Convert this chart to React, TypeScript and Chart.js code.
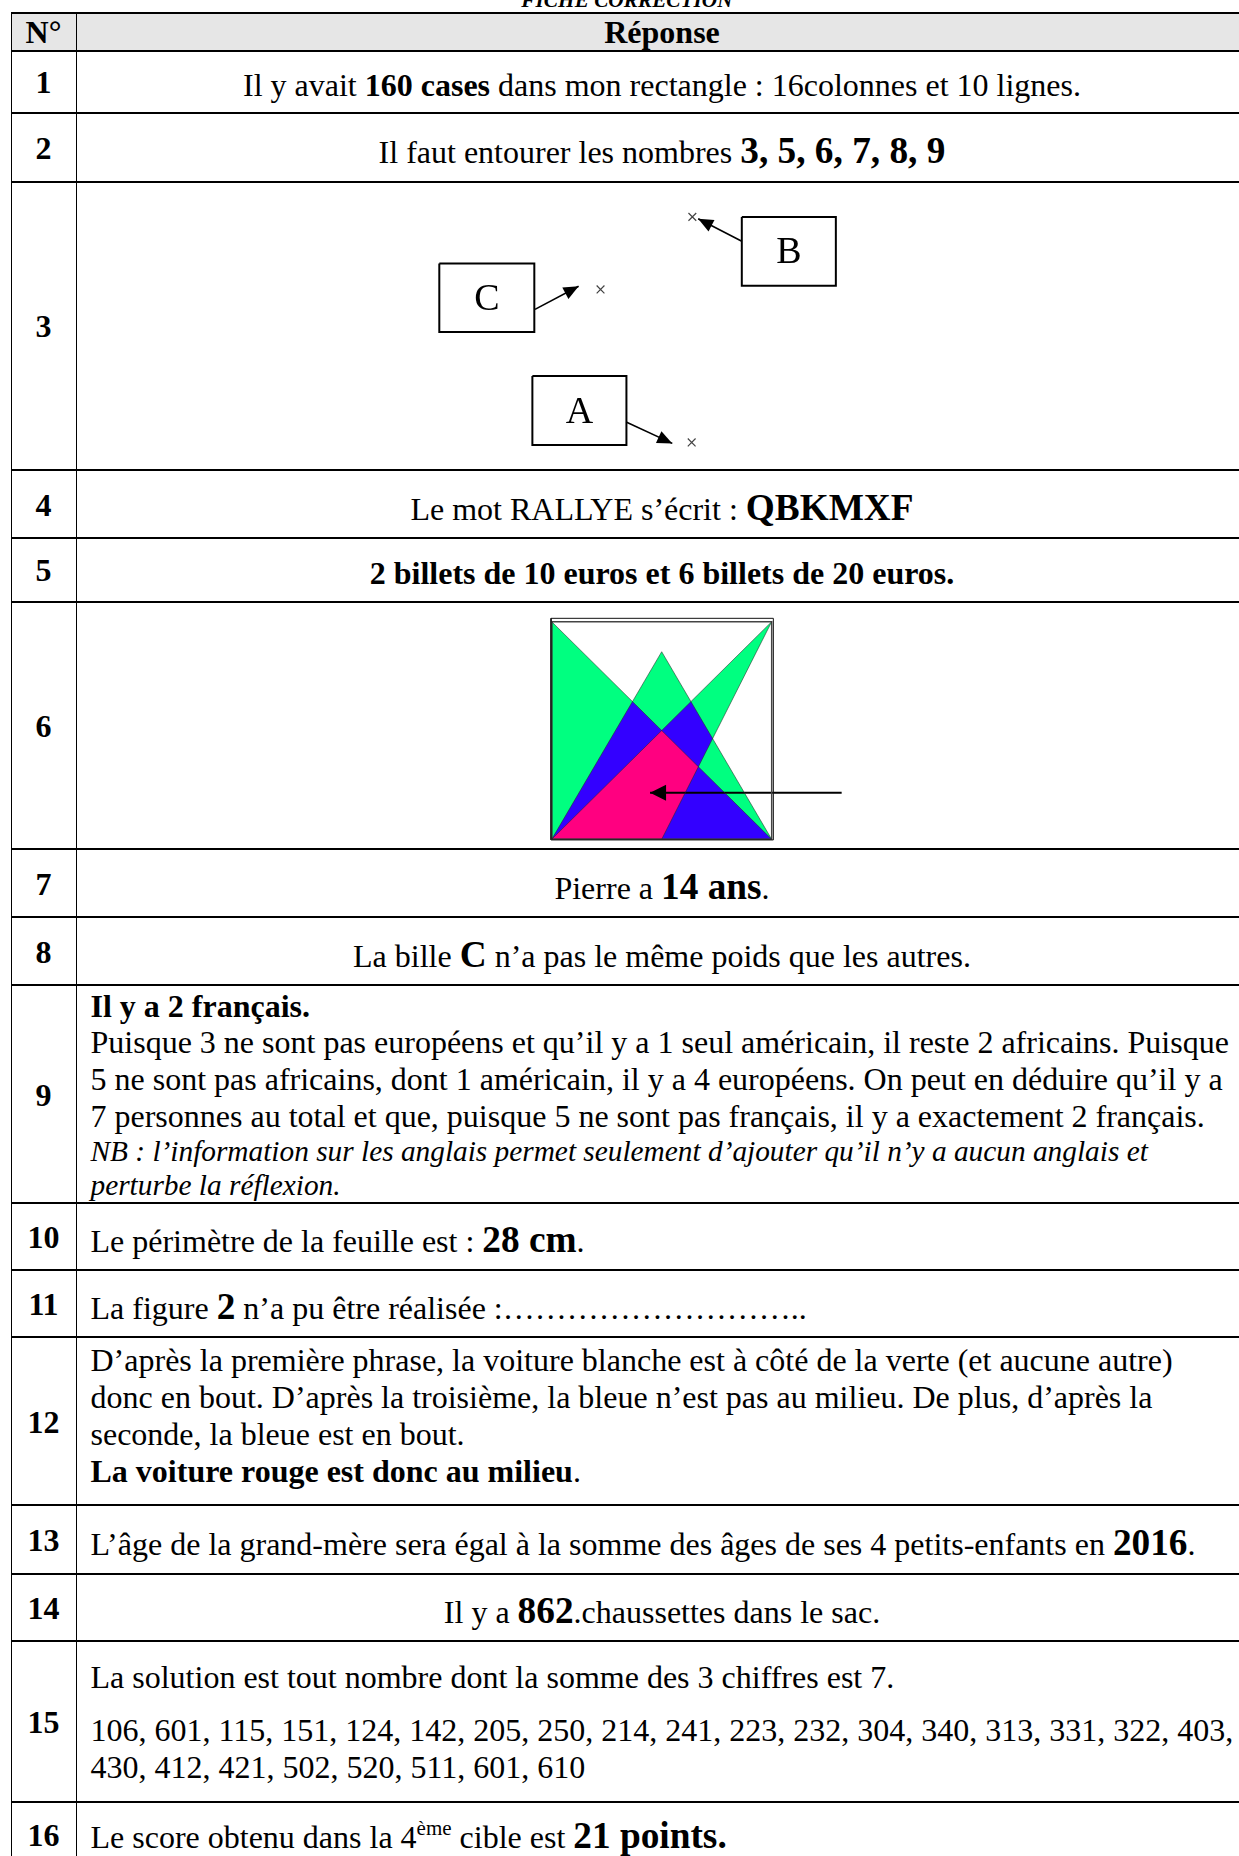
import React, { useEffect, useRef } from 'react';
import { Chart, registerables } from 'chart.js';

Chart.register(...registerables);

// ---------- Row 3 diagram data (diagram units) ----------
const boxLabels = ['C', 'B', 'A'];
const boxX0 = [1.3, 32.5, 10.9];
const boxX1 = [11.1, 42.2, 20.6];
const boxY0 = [6.5, 1.6, 18.35];
const boxY1 = [13.7, 8.85, 25.6];
const arrowFromX = [11.17, 32.5, 20.57];
const arrowFromY = [11.33, 4.17, 23.17];
const arrowToX = [15.67, 28.0, 25.33];
const arrowToY = [8.9, 1.8, 25.43];
const crossX = [17.93, 27.4, 27.33];
const crossY = [9.23, 1.6, 25.33];

// ---------- Row 6 figure data (unit square) ----------
const triangle1 = [
  { x: 0, y: 1 },
  { x: 0, y: 0 },
  { x: 1, y: 0 },
];
const triangle2 = [
  { x: 0, y: 0 },
  { x: 1, y: 0 },
  { x: 0.5, y: 0.862 },
];
const triangle3 = [
  { x: 1, y: 1 },
  { x: 0, y: 0 },
  { x: 0.5, y: 0 },
];
const innerFrame = [
  { x: 0, y: 0 },
  { x: 1, y: 0 },
  { x: 1, y: 1 },
  { x: 0, y: 1 },
];
const outerFrame = [
  { x: -0.003, y: -0.003 },
  { x: 1.0075, y: -0.003 },
  { x: 1.0075, y: 1.0156 },
  { x: -0.003, y: 1.0156 },
];
const pointerArrow = [
  { x: 1.318, y: 0.214 },
  { x: 0.447, y: 0.214 },
];

const regionColors = ['#00ff80', '#3300ff', '#ff0080'];

const FONT = '"Liberation Serif", "Times New Roman", serif';

const close = (pts: { x: number; y: number }[]) => [...pts, pts[0]];

const extrasPlugin = {
  id: 'extras',
  beforeDatasetsDraw(chart: any) {
    const ctx = chart.ctx;
    const polys: Path2D[] = [];
    chart.data.datasets.forEach((ds: any, i: number) => {
      if (!ds.region) return;
      const meta = chart.getDatasetMeta(i);
      const p = new Path2D();
      meta.data.forEach((pt: any, k: number) => {
        if (k === 0) p.moveTo(pt.x, pt.y);
        else p.lineTo(pt.x, pt.y);
      });
      p.closePath();
      polys.push(p);
    });
    if (!polys.length) return;
    ctx.save();
    ctx.fillStyle = regionColors[0];
    polys.forEach((p) => ctx.fill(p));
    ctx.fillStyle = regionColors[1];
    for (let a = 0; a < polys.length; a++) {
      for (let b = a + 1; b < polys.length; b++) {
        ctx.save();
        ctx.clip(polys[a]);
        ctx.fill(polys[b]);
        ctx.restore();
      }
    }
    if (polys.length >= 3) {
      ctx.save();
      ctx.clip(polys[0]);
      ctx.clip(polys[1]);
      ctx.fillStyle = regionColors[2];
      ctx.fill(polys[2]);
      ctx.restore();
    }
    ctx.restore();
  },
  afterDatasetsDraw(chart: any) {
    const ctx = chart.ctx;
    chart.data.datasets.forEach((ds: any, i: number) => {
      const meta = chart.getDatasetMeta(i);
      if (ds.boxLabel) {
        const pts = meta.data;
        const cx = (pts[0].x + pts[1].x) / 2;
        const cy = (pts[1].y + pts[2].y) / 2;
        ctx.save();
        ctx.fillStyle = '#000';
        ctx.font = '38px ' + FONT;
        ctx.textAlign = 'center';
        ctx.textBaseline = 'middle';
        ctx.fillText(ds.boxLabel, cx, cy + 2);
        ctx.restore();
      }
      if (ds.arrowHead) {
        const pts = meta.data;
        const a = pts[pts.length - 2];
        const b = pts[pts.length - 1];
        const ang = Math.atan2(b.y - a.y, b.x - a.x);
        const L = ds.arrowHead.len;
        const W = ds.arrowHead.half;
        ctx.save();
        ctx.fillStyle = '#000';
        ctx.beginPath();
        ctx.moveTo(b.x, b.y);
        ctx.lineTo(b.x - L * Math.cos(ang) + W * Math.sin(ang), b.y - L * Math.sin(ang) - W * Math.cos(ang));
        ctx.lineTo(b.x - L * Math.cos(ang) - W * Math.sin(ang), b.y - L * Math.sin(ang) + W * Math.cos(ang));
        ctx.closePath();
        ctx.fill();
        ctx.restore();
      }
    });
  },
};

function Diagram3() {
  const ref = useRef<HTMLCanvasElement | null>(null);
  useEffect(() => {
    if (!ref.current) return;
    const datasets: any[] = [];
    boxLabels.forEach((lab, i) => {
      datasets.push({
        data: close([
          { x: boxX0[i], y: boxY0[i] },
          { x: boxX1[i], y: boxY0[i] },
          { x: boxX1[i], y: boxY1[i] },
          { x: boxX0[i], y: boxY1[i] },
        ]),
        boxLabel: lab,
        showLine: true,
        borderColor: '#000',
        borderWidth: 2,
        pointRadius: 0,
      });
      datasets.push({
        data: [
          { x: arrowFromX[i], y: arrowFromY[i] },
          { x: arrowToX[i], y: arrowToY[i] },
        ],
        arrowHead: { len: 15, half: 6.5 },
        showLine: true,
        borderColor: '#000',
        borderWidth: 1.6,
        pointRadius: 0,
      });
    });
    datasets.push({
      data: crossX.map((x, i) => ({ x, y: crossY[i] })),
      showLine: false,
      pointStyle: 'crossRot',
      pointRadius: 5.5,
      borderColor: '#444',
      borderWidth: 1.2,
      backgroundColor: '#444',
    });
    const chart = new Chart(ref.current, {
      type: 'scatter',
      data: { datasets },
      options: {
        animation: false,
        responsive: false,
        devicePixelRatio: 1,
        layout: { padding: 0 },
        plugins: { legend: { display: false }, tooltip: { enabled: false } },
        elements: { line: { tension: 0 } },
        scales: {
          x: { type: 'linear', min: 0, max: 44, display: false },
          y: { type: 'linear', min: 0, max: 27, reverse: true, display: false },
        },
      } as any,
      plugins: [extrasPlugin],
    });
    return () => chart.destroy();
  }, []);
  return (
    <canvas
      ref={ref}
      width={440}
      height={270}
      style={{ position: 'absolute', left: 420, top: 195, width: 440, height: 270 }}
    />
  );
}

function Diagram6() {
  const ref = useRef<HTMLCanvasElement | null>(null);
  useEffect(() => {
    if (!ref.current) return;
    const tri = (pts: { x: number; y: number }[]) => ({
      data: close(pts),
      region: true,
      showLine: true,
      borderColor: 'rgba(40,40,40,0.55)',
      borderWidth: 1,
      pointRadius: 0,
    });
    const datasets: any[] = [
      tri(triangle1),
      tri(triangle2),
      tri(triangle3),
      {
        data: close(outerFrame),
        showLine: true,
        borderColor: '#111',
        borderWidth: 1,
        pointRadius: 0,
      },
      {
        data: close(innerFrame),
        showLine: true,
        borderColor: '#444',
        borderWidth: 1.5,
        pointRadius: 0,
      },
      {
        data: pointerArrow,
        arrowHead: { len: 16, half: 8 },
        showLine: true,
        borderColor: '#000',
        borderWidth: 2.2,
        pointRadius: 0,
      },
    ];
    const chart = new Chart(ref.current, {
      type: 'scatter',
      data: { datasets },
      options: {
        animation: false,
        responsive: false,
        devicePixelRatio: 1,
        layout: { padding: 0 },
        plugins: { legend: { display: false }, tooltip: { enabled: false } },
        elements: { line: { tension: 0 } },
        scales: {
          x: { type: 'linear', min: -0.0532, max: 1.4014, display: false },
          y: { type: 'linear', min: -0.0308, max: 1.063, display: false },
        },
      } as any,
      plugins: [extrasPlugin],
    });
    return () => chart.destroy();
  }, []);
  return (
    <canvas
      ref={ref}
      width={320}
      height={238}
      style={{ position: 'absolute', left: 540, top: 608, width: 320, height: 238 }}
    />
  );
}

const B = ({ children }: { children: React.ReactNode }) => (
  <b style={{ fontSize: 37.3 }}>{children}</b>
);

// row boundary lines (y) and row content
const rowLines = [12.7, 50.7, 112.7, 181.7, 470, 538, 601.7, 849.3, 917, 985, 1203, 1270, 1337, 1505, 1574, 1641, 1802, 1866];

type Row = { num: string; align: 'center' | 'left'; content: React.ReactNode; header?: boolean; padT?: number; padB?: number };

const rows: Row[] = [
  { num: 'N°', align: 'center', header: true, content: <b>Réponse</b> },
  {
    num: '1',
    align: 'center',
    padT: 8,
    content: (
      <span>
        Il y avait <b>160 cases</b> dans mon rectangle : 16colonnes et 10 lignes.
      </span>
    ),
  },
  {
    num: '2',
    align: 'center',
    padT: 8,
    content: (
      <span>
        Il faut entourer les nombres <B>3, 5, 6, 7, 8, 9</B>
      </span>
    ),
  },
  { num: '3', align: 'center', content: null },
  {
    num: '4',
    align: 'center',
    padT: 8,
    content: (
      <span>
        Le mot RALLYE s’écrit : <B>QBKMXF</B>
      </span>
    ),
  },
  { num: '5', align: 'center', padT: 8, content: <b>2 billets de 10 euros et 6 billets de 20 euros.</b> },
  { num: '6', align: 'center', content: null },
  {
    num: '7',
    align: 'center',
    padT: 8,
    content: (
      <span>
        Pierre a <B>14 ans</B>.
      </span>
    ),
  },
  {
    num: '8',
    align: 'center',
    padT: 8,
    content: (
      <span>
        La bille <B>C</B> n’a pas le même poids que les autres.
      </span>
    ),
  },
  {
    num: '9',
    align: 'left',
    content: (
      <div>
        <div>
          <b>Il y a 2 français.</b>
        </div>
        <div>Puisque 3 ne sont pas européens et qu’il y a 1 seul américain, il reste 2 africains. Puisque</div>
        <div>5 ne sont pas africains, dont 1 américain, il y a 4 européens. On peut en déduire qu’il y a</div>
        <div>7 personnes au total et que, puisque 5 ne sont pas français, il y a exactement 2 français.</div>
        <div style={{ fontSize: 29.33, fontStyle: 'italic' }}>
          NB : l’information sur les anglais permet seulement d’ajouter qu’il n’y a aucun anglais et
        </div>
        <div style={{ fontSize: 29.33, fontStyle: 'italic' }}>perturbe la réflexion.</div>
      </div>
    ),
  },
  {
    num: '10',
    align: 'left',
    padT: 8,
    content: (
      <span>
        Le périmètre de la feuille est : <B>28 cm</B>.
      </span>
    ),
  },
  {
    num: '11',
    align: 'left',
    padT: 8,
    content: (
      <span>
        La figure <B>2</B> n’a pu être réalisée :………………………..
      </span>
    ),
  },
  {
    num: '12',
    align: 'left',
    padB: 12,
    content: (
      <div>
        <div>D’après la première phrase, la voiture blanche est à côté de la verte (et aucune autre)</div>
        <div>donc en bout. D’après la troisième, la bleue n’est pas au milieu. De plus, d’après la</div>
        <div>seconde, la bleue est en bout.</div>
        <div>
          <b>La voiture rouge est donc au milieu</b>.
        </div>
      </div>
    ),
  },
  {
    num: '13',
    align: 'left',
    padT: 8,
    content: (
      <span>
        L’âge de la grand-mère sera égal à la somme des âges de ses 4 petits-enfants en <B>2016</B>.
      </span>
    ),
  },
  {
    num: '14',
    align: 'center',
    padT: 8,
    content: (
      <span>
        Il y a <B>862</B>.chaussettes dans le sac.
      </span>
    ),
  },
  {
    num: '15',
    align: 'left',
    content: (
      <div>
        <div>La solution est tout nombre dont la somme des 3 chiffres est 7.</div>
        <div style={{ marginTop: 16 }}>
          106, 601, 115, 151, 124, 142, 205, 250, 214, 241, 223, 232, 304, 340, 313, 331, 322, 403,
        </div>
        <div>430, 412, 421, 502, 520, 511, 601, 610</div>
      </div>
    ),
  },
  {
    num: '16',
    align: 'left',
    padT: 4,
    content: (
      <span>
        Le score obtenu dans la 4
        <span style={{ fontSize: 21, position: 'relative', top: -13 }}>ème</span> cible est <B>21 points.</B>
      </span>
    ),
  },
];

const TL = 10.5;
const TW = 1238;
const COL = 65;

export default function App() {
  return (
    <div
      style={{
        position: 'fixed',
        left: 0,
        top: 0,
        width: 1239,
        height: 1856,
        overflow: 'hidden',
        background: '#fff',
        fontFamily: FONT,
        fontSize: 32,
        lineHeight: 1.15,
        color: '#000',
      }}
    >
      <div
        style={{
          position: 'absolute',
          left: 627,
          top: -9.8,
          transform: 'translateX(-50%)',
          whiteSpace: 'nowrap',
          fontSize: 21.3,
          lineHeight: 1,
          fontWeight: 'bold',
          fontStyle: 'italic',
        }}
      >
        FICHE CORRECTION
      </div>
      {rows.map((r, i) => {
        const y0 = rowLines[i];
        const y1 = rowLines[i + 1];
        return (
          <div
            key={i}
            style={{
              position: 'absolute',
              left: TL,
              top: y0 - 1,
              width: TW,
              height: y1 - y0 + (i === rows.length - 1 ? 2 : 0),
              borderTop: '2px solid #000',
              borderBottom: i === rows.length - 1 ? '2px solid #000' : 'none',
              borderLeft: '1.3px solid #000',
              borderRight: '1.3px solid #000',
              boxSizing: 'border-box',
              background: r.header ? '#e6e6e6' : 'transparent',
            }}
          >
            <div
              style={{
                position: 'absolute',
                left: 0,
                top: 0,
                bottom: 0,
                width: COL,
                borderRight: '1.3px solid #000',
                boxSizing: 'border-box',
                display: 'flex',
                alignItems: 'center',
                justifyContent: 'center',
                fontWeight: 'bold',
                paddingTop: 2,
              }}
            >
              {r.num}
            </div>
            <div
              style={{
                position: 'absolute',
                left: COL,
                right: 0,
                top: 0,
                bottom: 0,
                display: 'flex',
                alignItems: 'center',
                justifyContent: r.align === 'center' ? 'center' : 'flex-start',
                padding: `${r.padT ?? 2}px 14px ${r.padB || 0}px 14px`,
                boxSizing: 'border-box',
                whiteSpace: 'nowrap',
              }}
            >
              {r.content}
            </div>
          </div>
        );
      })}
      <Diagram3 />
      <Diagram6 />
    </div>
  );
}
